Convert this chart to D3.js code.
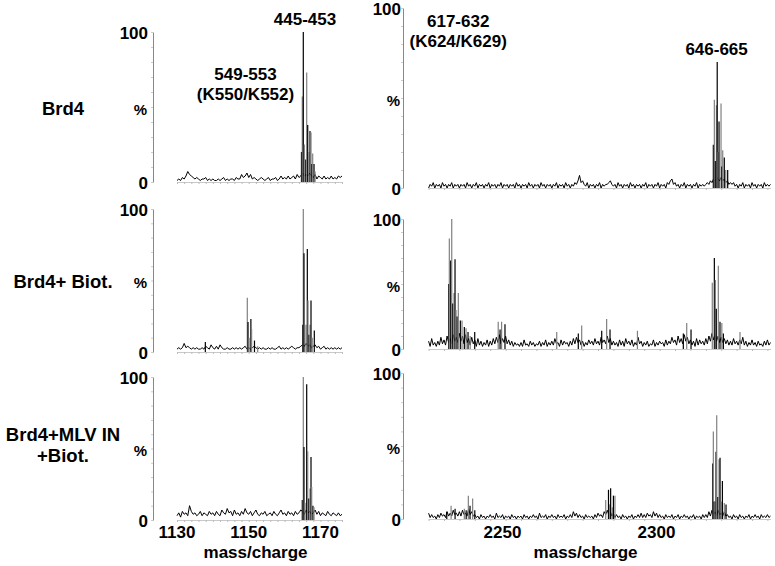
<!DOCTYPE html>
<html>
<head>
<meta charset="utf-8">
<script src="https://cdn.jsdelivr.net/npm/d3@7"></script>
<style>
  body { margin: 0; background: #fff; }
  text { font-family: "Liberation Sans", Arial, sans-serif; font-weight: bold; fill: #000; }
</style>
</head>
<body>
<script>
// ---- data ----
var rowLabels = [['Brd4'], ['Brd4+ Biot.'], ['Brd4+MLV IN', '+Biot.']];
var leftTicks = [1130, 1150, 1170];
var rightTicks = [2250, 2300];
var leftDomain = [1130, 1176];
var rightDomain = [2226, 2337];
var xTitle = 'mass/charge';

// background noise, % intensity, sampled every 0.5 m/z from the left edge of each panel
var noiseL1 = [1,2,1,3,2,4,7,5,4,3, 2,3,2,1,2,2,3,1,2,1, 2,1,1,2,1,2,3,1,2,1,
  2,2,1,3,2,2,5,3,4,6, 3,5,2,3,2,1,2,3,2,1, 2,3,1,2,2,3,1,2,4,2,
  3,2,4,2,3,4,2,5,3,4, 6,4,5,4,6,4,3,5,2,4, 3,2,4,2,3,2,4,2,3,2, 4,3,4];
var noiseL2 = [2,3,2,3,6,3,4,3,2,3, 2,3,2,2,3,2,4,3,2,5, 3,2,4,2,5,3,2,2,3,2,
  2,3,2,3,2,3,2,3,4,2, 3,2,3,4,3,2,3,2,3,2, 2,3,2,3,2,2,3,4,2,3,
  2,3,2,3,4,3,2,3,3,4, 5,4,6,4,5,3,4,5,3,4, 2,3,4,2,3,2,3,2,3,2, 3,2,3];
var noiseL3 = [3,5,2,6,4,5,3,10,6,4, 5,3,4,6,3,5,4,3,6,4, 5,3,6,4,3,7,5,4,8,5,
  6,3,7,4,5,3,6,4,8,5, 4,6,3,5,7,4,3,5,4,6, 3,4,5,3,6,4,3,5,7,4,
  5,3,6,4,5,3,6,4,5,7, 6,4,7,5,6,4,5,7,4,6, 3,5,4,3,6,4,3,5,4,3, 5,3,4];
var noiseR1 = [0,2,1,3,0,2,1,2,0,3, 1,2,0,2,1,3,0,2,1,2,
  0,2,1,2,0,3,1,2,0,2, 1,3,0,2,1,2,0,2,1,3,
  0,2,1,2,0,2,1,3,0,2, 1,2,0,2,1,2,0,3,1,2,
  0,2,1,2,0,3,1,2,0,2, 1,2,0,3,1,2,0,2,1,2,
  0,2,1,3,0,2,1,2,0,3, 1,2,0,2,1,3,2,4,7,3,
  4,2,1,3,0,2,1,2,0,2, 1,3,0,2,1,2,2,3,4,2,
  1,2,0,3,1,2,0,2,1,2, 0,3,1,2,0,2,1,2,0,2,
  1,3,0,2,1,2,0,2,1,3, 0,2,1,2,0,3,2,4,5,2,
  3,1,2,0,2,1,3,0,2,1, 2,0,2,1,3,0,2,1,2,1,
  2,3,2,4,3,5,4,6,5,4, 6,4,5,3,4,2,3,2,3,1,
  2,0,2,1,3,0,2,1,2,0, 3,1,2,0,2,1,2,0,3,1,
  2,1,2];
var noiseR2 = [6,2,8,3,5,2,6,3,9,4, 7,3,10,5,8,4,11,6,9,5,
  12,6,10,4,11,5,8,3,9,4, 7,2,8,3,6,2,5,3,7,2,
  6,3,8,4,9,5,11,4,8,5, 10,4,7,3,6,2,5,3,4,2,
  5,2,7,3,4,2,6,3,5,2, 4,3,6,2,5,3,7,2,5,3,
  6,3,8,4,5,2,7,3,6,4, 5,2,6,3,8,4,9,5,7,3,
  6,2,5,3,7,4,6,3,8,4, 6,3,9,5,7,4,10,5,8,3,
  6,3,5,2,7,3,6,2,8,4, 6,3,7,2,5,3,9,4,6,2,
  5,3,6,2,4,3,7,2,5,3, 6,4,5,2,7,3,6,4,9,5,
  7,3,10,5,8,4,11,6,9,4, 7,3,6,2,8,3,7,4,6,3,
  8,4,10,6,12,7,11,6,10,5, 9,5,8,4,7,3,6,3,8,4,
  6,3,7,4,9,3,6,2,5,3, 7,3,5,2,6,3,4,2,6,3,
  7,3,5];
var noiseR3 = [4,1,3,1,2,0,3,1,4,2, 3,1,5,2,4,2,6,3,4,2,
  5,2,6,3,4,2,7,3,5,2, 3,1,2,0,3,1,2,0,2,1,
  3,1,2,0,4,1,2,1,3,0, 2,1,2,0,3,1,2,0,2,1,
  2,0,3,1,2,0,2,1,3,1, 2,0,4,1,2,1,3,0,2,1,
  3,1,2,0,3,1,2,1,3,0, 2,1,3,1,5,2,4,1,3,1,
  2,0,3,1,2,1,2,0,3,1, 4,2,3,1,5,3,6,3,5,2,
  4,1,3,1,2,0,3,1,2,0, 2,1,3,0,2,1,3,1,4,1,
  3,1,4,2,3,1,5,2,4,1, 3,1,2,0,3,1,2,1,3,0,
  2,1,3,0,2,1,3,1,2,0, 2,1,3,0,2,1,2,0,3,1,
  3,1,5,2,6,3,5,2,6,3, 4,2,5,2,3,1,2,0,3,1,
  2,0,3,1,2,0,2,1,3,0, 2,1,3,1,2,0,3,1,2,1,
  3,1,2];

// peak sticks [m/z, % intensity]
var peaksL1 = [[1164.7,20],[1164.93,57],[1165.21,100],[1165.5,25],[1165.9,15],[1166.16,73],
  [1166.44,38],[1166.75,20],[1167.08,34],[1167.36,33],[1167.6,12],[1167.83,19],[1168.2,12],[1168.5,7]];
var peaksL2 = [[1137.9,7],[1149.6,38],[1149.8,21],[1150.1,10],[1150.6,23],[1150.8,16],[1151.6,8],
  [1152.5,4],[1165.04,19],[1165.21,100],[1165.4,69],[1165.96,19],[1166.33,72],[1166.52,36],
  [1166.8,12],[1167.08,19],[1167.36,36],[1167.7,10],[1168.28,15]];
var peaksL3 = [[1164.93,14],[1165.21,100],[1165.4,51],[1165.7,12],[1166.16,95],[1166.44,48],
  [1166.75,15],[1167.08,22],[1167.36,44],[1167.55,23],[1167.9,10],[1168.2,9]];
var peaksR1 = [[2318.44,24],[2318.77,49],[2319.1,15],[2319.45,46],[2319.7,70],[2320.0,20],
  [2320.29,37],[2320.94,47],[2321.2,12],[2321.49,21],[2322.0,17],[2322.47,10],[2323.1,10]];
var peaksR2 = [[2232.53,50],[2232.73,85],[2233.18,68],[2233.51,100],[2233.85,35],[2234.25,43],
  [2234.58,69],[2234.9,30],[2235.25,25],[2235.65,43],[2236.3,22],[2236.85,22],[2237.6,17],
  [2238.15,16],[2238.8,13],[2239.5,10],[2240.97,13],[2248.6,21],[2249.2,15],[2249.7,21],
  [2250.8,19],[2267.6,13],[2274.6,12],[2275.7,18],[2282.2,14],[2283.8,23],[2284.9,15],
  [2293.8,14],[2308.7,12],[2309.8,20],[2311.2,15],[2318.1,51],[2318.77,70],[2319.1,53],
  [2319.4,31],[2320.06,64],[2320.6,21],[2321.2,20],[2321.7,12],[2327.1,13]];
var peaksR3 = [[2231.9,5],[2233.3,9],[2234.6,7],[2237.6,7],[2238.2,6],[2238.9,16],[2239.45,9],
  [2240.3,14],[2241,6],[2283.5,13],[2284.4,20],[2284.75,10],[2285.1,21],[2285.6,8],[2286.0,16],
  [2286.5,16],[2318.24,38],[2318.44,60],[2318.7,12],[2319.0,12],[2319.32,46],[2319.54,71],
  [2319.9,15],[2320.29,41],[2320.62,42],[2321.0,12],[2321.38,26],[2322.0,11],[2322.56,10]];

var annotations = [
  {col: 0, mz: 1165.7, y: 25, lines: ['445-453']},
  {col: 0, mz: 1149.1, y: 80, lines: ['549-553', '(K550/K552)']},
  {col: 1, mz: 2235.6, y: 27, lines: ['617-632', '(K624/K629)']},
  {col: 1, mz: 2319.5, y: 55, lines: ['646-665']}
];

// ---- layout ----
var svg = d3.select('body').append('svg')
  .attr('width', 775)
  .attr('height', 566);

var cols = [
  {domain: leftDomain, range: [177, 342], axisX: 153, labelX: 148, ticks: leftTicks, minor: 2},
  {domain: rightDomain, range: [428.6, 770.5], axisX: 403, labelX: 401, ticks: rightTicks, minor: 5}
];
var step = 0.5;
cols.forEach(function(c) {
  c.x = d3.scaleLinear().domain(c.domain).range(c.range);
});

// [top(100%), bottom(0%)] per row, per column
var rowY = [
  [[32, 182], [8, 188]],
  [[209, 352], [219, 349]],
  [[377, 520], [373, 519]]
];
var rowLabelY = [[115], [288], [441, 462]];
var noise = [[noiseL1, noiseR1], [noiseL2, noiseR2], [noiseL3, noiseR3]];
var peaks = [[peaksL1, peaksR1], [peaksL2, peaksR2], [peaksL3, peaksR3]];

var drawPanel = function(r, ci) {
  var c = cols[ci];
  var x = c.x;
  var y = d3.scaleLinear().domain([0, 100]).range([rowY[r][ci][1], rowY[r][ci][0]]);
  var g = svg.append('g');

  // y axis with small minor ticks
  g.append('g')
    .attr('transform', 'translate(' + c.axisX + ',0)')
    .call(d3.axisLeft(y).tickValues(d3.range(0, 101, 10)).tickSize(2).tickSizeOuter(0).tickFormat(''))
    .call(function(a) {
      a.select('.domain').attr('stroke', '#888').attr('stroke-width', 1);
      a.selectAll('.tick line').attr('stroke', '#ccc');
    });

  // baseline with small ticks
  var bx = g.append('g')
    .attr('transform', 'translate(0,' + y(0) + ')')
    .call(d3.axisBottom(x).tickValues(d3.range(c.domain[0], c.domain[1] + 0.01, c.minor))
      .tickSize(2).tickSizeOuter(0).tickFormat(''));
  bx.select('.domain').attr('stroke', '#bbb').attr('stroke-width', 0.8);
  bx.selectAll('.tick line').attr('stroke', '#bbb');

  // y labels
  g.append('text').attr('x', c.labelX).attr('y', y(100) + 1)
    .attr('text-anchor', 'end').attr('dominant-baseline', 'central')
    .style('font-size', '17px').text('100');
  g.append('text').attr('x', c.labelX).attr('y', y(0) + 1)
    .attr('text-anchor', 'end').attr('dominant-baseline', 'central')
    .style('font-size', '17px').text('0');
  g.append('text').attr('x', ci === 0 ? 147 : 400).attr('y', y(50) + 2)
    .attr('text-anchor', 'end').attr('dominant-baseline', 'central')
    .style('font-size', '15px').text('%');

  // noise trace
  var start = c.domain[0];
  var line = d3.line()
    .x(function(d, i) { return x(start + i * step); })
    .y(function(d) { return y(d); });
  g.append('path')
    .datum(noise[r][ci])
    .attr('d', line)
    .attr('fill', 'none')
    .attr('stroke', '#000')
    .attr('stroke-width', 1)
    .attr('stroke-linejoin', 'miter');

  // peak sticks
  g.selectAll('line.peak')
    .data(peaks[r][ci])
    .enter().append('line')
    .attr('class', 'peak')
    .attr('x1', function(d) { return x(d[0]); })
    .attr('x2', function(d) { return x(d[0]); })
    .attr('y1', y(0))
    .attr('y2', function(d) { return y(d[1]); })
    .attr('stroke', function(d, i) { return i % 2 ? '#808080' : '#000'; })
    .attr('stroke-width', 1.2);

  // x tick labels and title on the bottom row only
  if (r === 2) {
    g.selectAll('text.xt')
      .data(c.ticks)
      .enter().append('text')
      .attr('class', 'xt')
      .attr('x', function(d) { return x(d); })
      .attr('y', 538)
      .attr('text-anchor', 'middle')
      .style('font-size', '17px')
      .text(function(d) { return d; });
    g.append('text')
      .attr('x', (c.range[0] + c.range[1]) / 2 + (ci === 0 ? -4 : -14))
      .attr('y', 558)
      .attr('text-anchor', 'middle')
      .style('font-size', '17px')
      .text(xTitle);
  }
};

for (var r = 0; r < 3; r++) {
  drawPanel(r, 0);
  drawPanel(r, 1);
}

// row labels
rowLabels.forEach(function(lines, r) {
  lines.forEach(function(t, k) {
    svg.append('text')
      .attr('x', 63)
      .attr('y', rowLabelY[r][k])
      .attr('text-anchor', 'middle')
      .style('font-size', '18.5px')
      .text(t);
  });
});

// peak annotations
annotations.forEach(function(a) {
  a.lines.forEach(function(t, k) {
    svg.append('text')
      .attr('x', cols[a.col].x(a.mz))
      .attr('y', a.y + k * 20)
      .attr('text-anchor', 'middle')
      .style('font-size', '17px')
      .text(t);
  });
});
</script>
</body>
</html>
